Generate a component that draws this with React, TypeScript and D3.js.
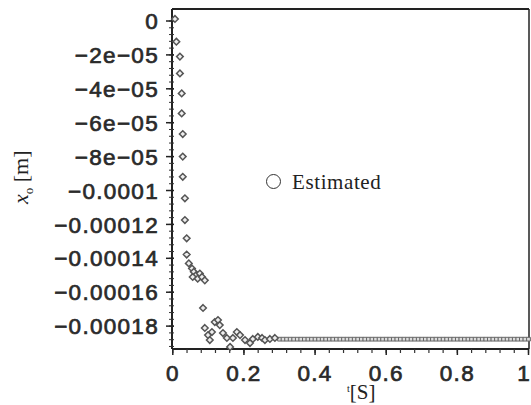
import React from "react";
import * as d3 from "d3";

// ---- data ----
const transientTimes = [
  0.006, 0.01, 0.02, 0.02, 0.025, 0.025, 0.028, 0.028, 0.028, 0.034, 0.034, 0.039, 0.039,
  0.045, 0.054, 0.059, 0.065, 0.056, 0.07, 0.076, 0.082, 0.09, 0.085,
  0.09, 0.099, 0.104, 0.11, 0.118, 0.127, 0.132, 0.141, 0.152, 0.161, 0.169, 0.18, 0.189,
  0.203, 0.217, 0.225, 0.239, 0.251, 0.259, 0.273, 0.287,
];
const transientValues = [
  0.0000012, -0.0000122, -0.000021, -0.0000309, -0.0000427, -0.0000545, -0.0000667, -0.00008, -0.0000919,
  -0.0001046, -0.0001174, -0.0001282, -0.0001378,
  -0.000143, -0.000146, -0.000148, -0.00015, -0.000151, -0.000152, -0.000149, -0.000151, -0.000153, -0.0001693,
  -0.0001811, -0.0001853, -0.0001882, -0.0001835, -0.0001776, -0.0001764, -0.0001794, -0.0001841, -0.000187,
  -0.0001923, -0.000187, -0.0001835, -0.0001853, -0.0001882, -0.00019, -0.0001876, -0.0001864, -0.000187,
  -0.0001882, -0.0001876, -0.000187,
];
const steadyTimes = [
  0.3, 0.31, 0.32, 0.33, 0.34, 0.35, 0.36, 0.37, 0.38, 0.39, 0.4, 0.41, 0.42, 0.43, 0.44, 0.45, 0.46, 0.47,
  0.48, 0.49, 0.5, 0.51, 0.52, 0.53, 0.54, 0.55, 0.56, 0.57, 0.58, 0.59, 0.6, 0.61, 0.62, 0.63, 0.64, 0.65,
  0.66, 0.67, 0.68, 0.69, 0.7, 0.71, 0.72, 0.73, 0.74, 0.75, 0.76, 0.77, 0.78, 0.79, 0.8, 0.81, 0.82, 0.83,
  0.84, 0.85, 0.86, 0.87, 0.88, 0.89, 0.9, 0.91, 0.92, 0.93, 0.94, 0.95, 0.96, 0.97, 0.98, 0.99, 1.0,
];
const steadyValues = [
  -0.0001877, -0.0001877, -0.0001877, -0.0001877, -0.0001877, -0.0001877, -0.0001877, -0.0001877, -0.0001877,
  -0.0001877, -0.0001877, -0.0001877, -0.0001877, -0.0001877, -0.0001877, -0.0001877, -0.0001877, -0.0001877,
  -0.0001877, -0.0001877, -0.0001877, -0.0001877, -0.0001877, -0.0001877, -0.0001877, -0.0001877, -0.0001877,
  -0.0001877, -0.0001877, -0.0001877, -0.0001877, -0.0001877, -0.0001877, -0.0001877, -0.0001877, -0.0001877,
  -0.0001877, -0.0001877, -0.0001877, -0.0001877, -0.0001877, -0.0001877, -0.0001877, -0.0001877, -0.0001877,
  -0.0001877, -0.0001877, -0.0001877, -0.0001877, -0.0001877, -0.0001877, -0.0001877, -0.0001877, -0.0001877,
  -0.0001877, -0.0001877, -0.0001877, -0.0001877, -0.0001877, -0.0001877, -0.0001877, -0.0001877, -0.0001877,
  -0.0001877, -0.0001877, -0.0001877, -0.0001877, -0.0001877, -0.0001877, -0.0001877, -0.0001877,
];
const yTickValues = [0, -0.00002, -0.00004, -0.00006, -0.00008, -0.0001, -0.00012, -0.00014, -0.00016, -0.00018];
const yTickLabels = ["0", "\u22122e\u221205", "\u22124e\u221205", "\u22126e\u221205", "\u22128e\u221205", "\u22120.0001", "\u22120.00012", "\u22120.00014", "\u22120.00016", "\u22120.00018"];
const xTickValues = [0, 0.2, 0.4, 0.6, 0.8, 1];
const xTickLabels = ["0", "0.2", "0.4", "0.6", "0.8", "1"];
const legendLabel = "Estimated";

export default function App() {
  const W = 531, H = 405;
  const left = 172, right = 529, top = 9, bottom = 349;
  const x = d3.scaleLinear().domain([0, 1]).range([172.8, 528.5]);
  const y = d3.scaleLinear().domain([-0.0001935, 0.00000708]).range([bottom, top]);

  const yMinor = d3.range(0, 49).map((i) => -i * 0.000004).filter((v) => y(v) <= bottom && y(v) >= top);
  const xMinor = d3.range(0, 26).map((i) => i * 0.04);

  const symType = (d3 as any).symbolDiamond2 || d3.symbolDiamond;
  const diamond = d3.symbol().type(symType).size(28)() as string;
  const small = d3.symbol().type(d3.symbolSquare).size(14)() as string;

  const tickFont = {
    fontFamily: "'Liberation Sans', Arial, sans-serif",
    fontSize: 22.5,
    fontWeight: 400 as const,
    letterSpacing: 1.3,
    fill: "#2a2a2a",
    stroke: "#2a2a2a",
    strokeWidth: 0.7,
  };

  return (
    <svg width={W} height={H} style={{ position: "absolute", left: 0, top: 0, background: "#fff" }}>
      {/* frame */}
      <line x1={left} x2={right} y1={top} y2={top} stroke="#222" strokeWidth={2} />
      <line x1={right} x2={right} y1={top} y2={bottom} stroke="#222" strokeWidth={1.5} />
      <line x1={left} x2={left} y1={top} y2={bottom} stroke="#222" strokeWidth={2} />
      <line x1={left} x2={right} y1={bottom} y2={bottom} stroke="#222" strokeWidth={2} />

      {/* y ticks */}
      {yMinor.map((v, i) => (
        <line key={"ym" + i} x1={left - 3} x2={left + 2} y1={y(v)} y2={y(v)} stroke="#333" strokeWidth={1} />
      ))}
      {yTickValues.map((v, i) => (
        <g key={"yt" + i}>
          <line x1={left - 6} x2={left + 2} y1={y(v)} y2={y(v)} stroke="#222" strokeWidth={1.5} />
          <text x={159} y={y(v)} dy="0.36em" textAnchor="end" style={tickFont}>
            {yTickLabels[i]}
          </text>
        </g>
      ))}

      {/* x ticks */}
      {xMinor.map((v, i) => (
        <line key={"xm" + i} x1={x(v)} x2={x(v)} y1={bottom} y2={bottom + 4} stroke="#333" strokeWidth={1.2} />
      ))}
      {xTickValues.map((v, i) => (
        <g key={"xt" + i}>
          <line x1={x(v)} x2={x(v)} y1={bottom} y2={bottom + 6} stroke="#222" strokeWidth={1.5} />
          <text
            x={i === xTickValues.length - 1 ? 531 : x(v)}
            y={381}
            textAnchor={i === xTickValues.length - 1 ? "end" : "middle"}
            style={tickFont}
          >
            {xTickLabels[i]}
          </text>
        </g>
      ))}

      {/* data */}
      {steadyTimes.map((t, i) => (
        <path
          key={"s" + i}
          d={small}
          transform={`translate(${x(t)},${y(steadyValues[i])})`}
          fill="#ddd"
          stroke="#666"
          strokeWidth={1}
        />
      ))}
      {transientTimes.map((t, i) => (
        <path
          key={"p" + i}
          d={diamond}
          transform={`translate(${x(t)},${y(transientValues[i])})`}
          fill="#eee"
          stroke="#555"
          strokeWidth={1.5}
        />
      ))}

      {/* legend */}
      <circle cx={273.5} cy={181.5} r={7} fill="none" stroke="#333" strokeWidth={1} />
      <text x={292} y={188.5} style={{ fontFamily: "'Liberation Serif', 'Times New Roman', serif", fontSize: 21, fill: "#222", letterSpacing: 0.6 }}>
        {legendLabel}
      </text>

      {/* axis titles */}
      <text
        transform="translate(28,204) rotate(-90)"
        style={{ fontFamily: "'Liberation Serif', 'Times New Roman', serif", fontSize: 22, fill: "#222" }}
      >
        <tspan fontStyle="italic">x</tspan>
        <tspan fontSize={13} dy={5}>o</tspan>
        <tspan dy={-5}> [m]</tspan>
      </text>
      <text style={{ fontFamily: "'Liberation Serif', 'Times New Roman', serif", fill: "#222" }}>
        <tspan x={347} y={392} fontSize={10}>t</tspan>
        <tspan y={399} fontSize={21}>[S]</tspan>
      </text>
    </svg>
  );
}
